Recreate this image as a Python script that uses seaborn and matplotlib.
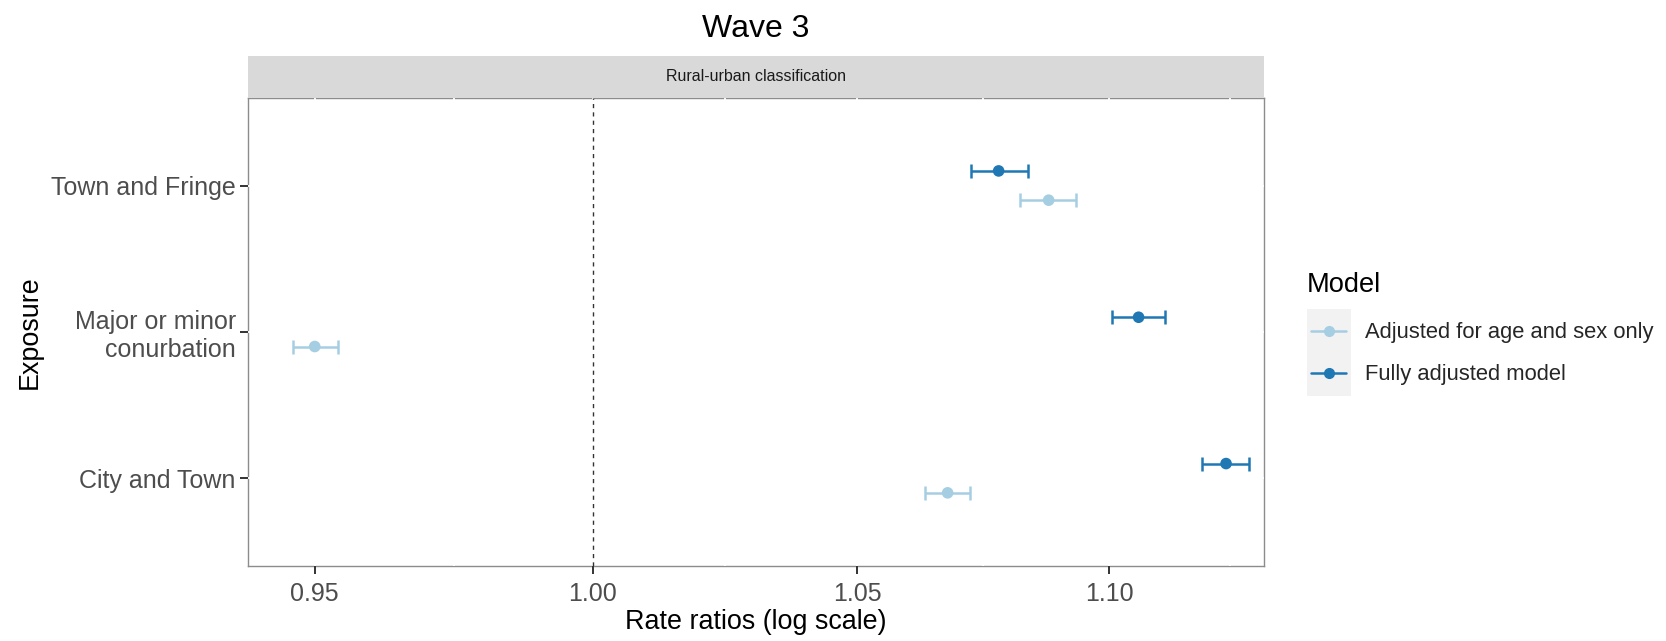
import numpy as np
import pandas as pd
import matplotlib
matplotlib.use("Agg")
import matplotlib.pyplot as plt
from matplotlib.lines import Line2D
from matplotlib.patches import Rectangle
from matplotlib.ticker import FixedLocator, NullFormatter
import seaborn as sns

# ---- data ----
categories = ["City and Town", "Major or minor\nconurbation", "Town and Fringe"]
models = ["Adjusted for age and sex only", "Fully adjusted model"]
est_adjusted = [1.0677, 0.9500, 1.0878]
lo_adjusted = [1.0633, 0.9462, 1.0820]
hi_adjusted = [1.0721, 0.9540, 1.0933]
est_full = [1.1240, 1.1060, 1.0778]
lo_full = [1.1191, 1.1006, 1.0723]
hi_full = [1.1288, 1.1115, 1.0837]
x_ticks = [0.95, 1.00, 1.05, 1.10]

rows = []
for m, est, lo, hi in [(models[0], est_adjusted, lo_adjusted, hi_adjusted),
                       (models[1], est_full, lo_full, hi_full)]:
    for c, e, l, h in zip(categories, est, lo, hi):
        rows.append(dict(category=c, model=m, est=e, lo=l, hi=h))
df = pd.DataFrame(rows)

sns.set_theme(style="white")
plt.rcParams["font.family"] = ["Liberation Sans", "DejaVu Sans"]

palette = {models[0]: "#A6CEE3", models[1]: "#1F78B4"}
dodge = {models[0]: -0.1, models[1]: 0.1}
cat_pos = {c: i for i, c in enumerate(categories)}
df["ypos"] = df["category"].map(cat_pos) + df["model"].map(dodge)

W, H = 1666, 641
fig = plt.figure(figsize=(W / 100, H / 100), dpi=100)
ax_l, ax_r, ax_t, ax_b = 247.6, 1264, 97.75, 566
ax = fig.add_axes([ax_l / W, 1 - ax_b / H, (ax_r - ax_l) / W, (ax_b - ax_t) / H])

ax.set_xscale("log")
for m in models:
    sub = df[df["model"] == m]
    ax.errorbar(sub["est"], sub["ypos"],
                xerr=[sub["est"] - sub["lo"], sub["hi"] - sub["est"]],
                fmt="none", ecolor=palette[m], elinewidth=1.8, capsize=5.3,
                capthick=1.8, zorder=4)
sns.scatterplot(data=df, x="est", y="ypos", hue="model", palette=palette,
                s=70, edgecolor="none", ax=ax, legend=False, zorder=5)

ax.axvline(1.0, color="#333333", linestyle=(0, (3, 3)), linewidth=1.0, zorder=3)

ax.set_xlim(0.9383, 1.1319)
ax.set_ylim(-0.6, 2.6)
ax.set_xticks(x_ticks)
ax.set_xticklabels([f"{t:.2f}" for t in x_ticks])
# minor breaks at midpoints on the log scale (ggplot style)
ext = x_ticks + [1.15]
minor = [np.sqrt(a * b) for a, b in zip(ext[:-1], ext[1:])]
ax.xaxis.set_minor_locator(FixedLocator(minor))
ax.xaxis.set_minor_formatter(NullFormatter())
ax.set_yticks(range(len(categories)))
ax.set_yticklabels(categories)

ax.grid(True, which="both", axis="both", color="white", linewidth=1.3)
ax.xaxis.set_zorder(2.7)
ax.yaxis.set_zorder(2.7)

for s in ax.spines.values():
    s.set_color("#8c8c8c")
    s.set_linewidth(1.0)

ax.tick_params(axis="both", which="major", length=5.5, width=1.4, color="#333333",
               labelcolor="#4D4D4D", labelsize=18, bottom=True, left=True)
ax.tick_params(axis="x", which="minor", length=0)
ax.tick_params(axis="x", pad=6)
ax.tick_params(axis="y", pad=3)
for lab in ax.get_yticklabels():
    lab.set_multialignment("right")

ax.set_xlabel("Rate ratios (log scale)", fontsize=19.4, color="black")
ax.set_ylabel("Exposure", fontsize=19.4, color="black")
ax.xaxis.set_label_coords((ax_l + ax_r) / 2 / W, 1 - 622 / H, transform=fig.transFigure)
ax.xaxis.label.set_verticalalignment("center")
ax.yaxis.set_label_coords(30 / W, 1 - 332 / H, transform=fig.transFigure)
ax.yaxis.label.set_verticalalignment("center")

# strip
strip_top = 56
fig.patches.append(Rectangle((ax_l / W, 1 - ax_t / H), (ax_r - ax_l) / W,
                             (ax_t - strip_top) / H, transform=fig.transFigure,
                             facecolor="#D9D9D9", edgecolor="none", zorder=0))
fig.text((ax_l + ax_r) / 2 / W, 1 - (ax_t + strip_top) / 2 / H, "Rural-urban classification",
         ha="center", va="center", fontsize=11.5, color="#1A1A1A")

# title
fig.text((ax_l + ax_r) / 2 / W, 1 - 29 / H, "Wave 3", ha="center", va="center",
         fontsize=23, color="black")

# legend
fig.patches.append(Rectangle((1307 / W, 1 - 396 / H), 44 / W, 87 / H,
                             transform=fig.transFigure, facecolor="#F2F2F2",
                             edgecolor="none", zorder=0))
fig.text(1307 / W, 1 - 285 / H, "Model", ha="left", va="center",
         fontsize=19.6, color="black")
handles = [Line2D([0], [0], color=palette[m], marker="o", markersize=7,
                  linewidth=1.8) for m in models]
leg = fig.legend(handles, models, loc="center left",
                 bbox_to_anchor=(1311 / W, 1 - 353.8 / H), frameon=False,
                 fontsize=15.8, handlelength=1.6,
                 labelspacing=0.95, handletextpad=0.86, borderpad=0,
                 borderaxespad=0)

fig.savefig("out.png", dpi=100, facecolor="white")
